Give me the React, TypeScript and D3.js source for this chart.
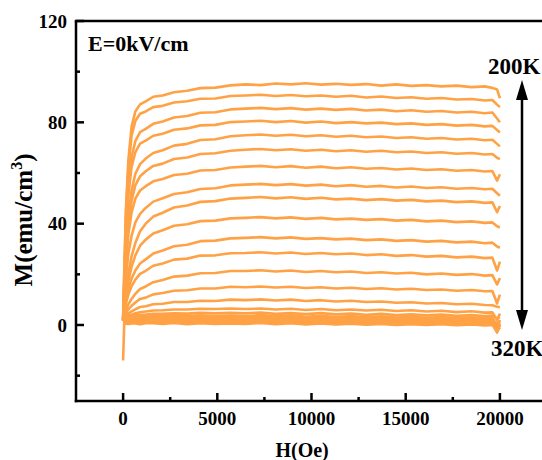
import React from 'react';
import * as d3 from 'd3';

const fieldOe = [0, 60, 150, 280, 450, 650, 900, 1200, 1600, 2100, 2700, 3400, 4100, 4900, 5700, 6500, 7300, 8100, 8900, 9700, 10500, 11300, 12100, 12900, 13700, 14500, 15300, 16100, 16900, 17700, 18500, 19200, 19600, 19850, 20000];

const m200K = [2, 20.6, 45.7, 65.2, 78.3, 84.3, 87.1, 88.3, 90.1, 90.6, 91.9, 92.5, 93.5, 93.7, 94.6, 95.0, 94.7, 95.3, 95.0, 95.4, 94.9, 95.2, 94.8, 95.1, 94.5, 95.0, 94.4, 94.7, 94.2, 94.5, 93.9, 94.2, 93.6, 93.0, 89.5];
const m205K = [2.5, 19.7, 43.7, 62.3, 74.7, 80.5, 83.4, 84.3, 86.0, 86.5, 87.8, 88.3, 89.3, 89.4, 90.4, 90.6, 90.9, 90.4, 90.8, 90.3, 90.6, 90.1, 90.5, 89.8, 90.2, 89.6, 89.9, 89.3, 89.6, 89.0, 89.2, 88.6, 88.8, 87.0, 86.0];
const m210K = [1.8, 17.0, 37.9, 54.6, 66.3, 72.6, 76.1, 77.4, 79.4, 80.3, 81.9, 82.5, 83.8, 84.0, 85.1, 85.4, 85.7, 85.2, 85.6, 85.0, 85.4, 84.9, 85.3, 84.7, 85.0, 84.4, 84.8, 84.2, 84.5, 83.9, 84.2, 83.6, 83.9, 81.5, 80.0];
const m215K = [2.2, 16.1, 35.7, 51.4, 62.4, 68.2, 71.6, 72.8, 74.7, 75.5, 77.1, 77.6, 78.8, 79.0, 80.1, 80.3, 80.6, 80.1, 80.5, 79.9, 80.3, 79.7, 80.1, 79.6, 79.9, 79.3, 79.6, 79.0, 79.3, 78.7, 79.0, 78.4, 78.6, 77.0, 76.0];
const m220K = [1.6, 13.0, 29.0, 42.9, 53.1, 59.7, 63.5, 65.7, 67.9, 69.0, 70.8, 71.5, 73.0, 73.3, 74.5, 74.9, 75.2, 74.7, 75.1, 74.5, 74.9, 74.3, 74.7, 74.1, 74.4, 73.8, 74.1, 73.5, 73.8, 73.2, 73.5, 72.9, 73.1, 71.5, 70.5];
const m225K = [2.4, 12.1, 26.9, 39.7, 49.1, 55.2, 58.7, 60.7, 62.8, 63.7, 65.5, 66.1, 67.5, 67.8, 68.8, 69.2, 69.5, 69.0, 69.4, 68.8, 69.2, 68.6, 69.0, 68.4, 68.8, 68.2, 68.5, 67.9, 68.2, 67.6, 67.9, 67.3, 67.5, 66.0, 65.5];
const m230K = [1.9, 11.1, 24.4, 35.9, 44.4, 49.9, 53.1, 54.8, 56.7, 57.6, 59.2, 59.7, 61.0, 61.2, 62.2, 62.5, 62.8, 62.3, 62.7, 62.1, 62.5, 61.9, 62.3, 61.7, 62.0, 61.4, 61.8, 61.2, 61.5, 60.9, 61.2, 60.6, 60.8, 57.0, 59.5];
const m235K = [2.1, 9.0, 19.1, 28.2, 35.2, 40.5, 43.9, 46.2, 48.7, 50.0, 51.7, 52.4, 53.7, 54.0, 55.1, 55.4, 55.7, 55.2, 55.6, 55.0, 55.4, 54.8, 55.2, 54.6, 54.9, 54.3, 54.7, 54.1, 54.4, 53.8, 54.1, 53.6, 53.8, 52.0, 51.0];
const m240K = [1.7, 6.8, 13.6, 20.4, 27.1, 32.4, 37.0, 40.0, 42.8, 44.3, 46.4, 47.2, 48.6, 48.9, 49.9, 50.2, 50.5, 50.0, 50.4, 49.8, 50.2, 49.6, 49.9, 49.3, 49.7, 49.1, 49.4, 48.8, 49.1, 48.5, 48.8, 48.2, 48.4, 44.5, 47.0];
const m245K = [2.3, 6.0, 11.7, 17.4, 23.0, 27.5, 31.3, 33.7, 36.1, 37.4, 39.2, 39.8, 41.0, 41.2, 42.1, 42.3, 42.6, 42.1, 42.5, 41.9, 42.3, 41.7, 42.0, 41.5, 41.8, 41.2, 41.5, 40.9, 41.2, 40.6, 40.9, 40.3, 40.5, 39.0, 38.5];
const m250K = [1.8, 5.3, 9.8, 14.4, 18.3, 21.5, 24.3, 25.9, 28.2, 29.4, 31.1, 31.7, 33.1, 33.3, 34.2, 34.4, 34.7, 34.2, 34.6, 34.0, 34.3, 33.8, 34.1, 33.5, 33.8, 33.2, 33.5, 32.9, 33.2, 32.6, 32.9, 32.3, 32.5, 31.0, 30.5];
const m255K = [2.2, 4.7, 8.4, 12.1, 15.3, 17.9, 20.2, 21.4, 23.4, 24.3, 25.8, 26.2, 27.4, 27.5, 28.3, 28.4, 28.7, 28.2, 28.6, 28.0, 28.4, 27.9, 28.2, 27.6, 27.9, 27.3, 27.6, 27.0, 27.3, 26.7, 27.0, 26.4, 26.6, 21.5, 25.0];
const m260K = [1.9, 3.6, 5.9, 8.2, 10.3, 12.3, 14.2, 15.2, 16.9, 17.8, 19.1, 19.5, 20.4, 20.5, 21.3, 21.3, 21.6, 21.1, 21.5, 20.9, 21.3, 20.8, 21.1, 20.5, 20.8, 20.3, 20.6, 20.0, 20.3, 19.8, 20.1, 19.5, 19.7, 16.0, 18.5];
const m265K = [2.4, 3.0, 4.6, 6.2, 7.6, 8.9, 10.3, 10.8, 12.1, 12.6, 13.5, 13.7, 14.4, 14.4, 15.1, 14.9, 15.2, 14.8, 15.1, 14.6, 14.9, 14.4, 14.7, 14.2, 14.5, 14.0, 14.3, 13.8, 14.0, 13.5, 13.8, 13.3, 13.4, 8.5, 12.0];
const m270K = [1.8, 2.6, 3.6, 4.5, 5.4, 6.2, 7.1, 7.4, 8.2, 8.4, 9.1, 9.1, 9.6, 9.5, 10.0, 9.8, 10.1, 9.7, 10.0, 9.5, 9.8, 9.3, 9.6, 9.1, 9.3, 8.8, 9.0, 8.5, 8.7, 8.2, 8.4, 7.9, 7.8, 7.2, 7.0];
const m275K = [2.0, 2.4, 3.0, 3.6, 4.1, 4.6, 5.0, 5.3, 5.7, 5.8, 6.1, 6.1, 6.4, 6.3, 6.5, 6.3, 6.5, 6.1, 6.4, 5.9, 6.3, 5.8, 6.1, 5.7, 6.0, 5.5, 5.8, 5.3, 5.6, 5.1, 5.4, 4.9, 5.0, 2.0, 4.5];
const m280K = [2.3, 2.5, 2.9, 3.2, 3.5, 3.8, 4.0, 4.1, 4.4, 4.4, 4.6, 4.5, 4.8, 4.6, 4.8, 4.6, 4.9, 4.4, 4.7, 4.3, 4.7, 4.2, 4.5, 4.0, 4.4, 3.9, 4.2, 3.8, 4.1, 3.6, 3.9, 3.5, 3.7, 2.5, 3.0];
const m285K = [1.8, 2.0, 2.3, 2.6, 2.8, 3.0, 3.2, 3.2, 3.5, 3.4, 3.7, 3.5, 3.8, 3.5, 3.7, 3.5, 3.9, 3.4, 3.8, 3.2, 3.6, 3.1, 3.5, 3.0, 3.4, 2.9, 3.2, 2.8, 3.1, 2.7, 3.0, 2.6, 2.8, 0.0, 2.0];
const m290K = [2.5, 2.3, 2.4, 2.5, 2.7, 2.8, 2.7, 2.9, 3.0, 2.8, 3.1, 2.8, 3.1, 2.9, 3.0, 2.8, 3.2, 2.7, 3.1, 2.6, 3.0, 2.5, 2.9, 2.4, 2.8, 2.3, 2.7, 2.2, 2.5, 2.1, 2.4, 2.0, 2.2, -1.0, 1.5];
const m295K = [1.5, 1.7, 1.9, 2.0, 2.1, 2.2, 2.1, 2.3, 2.4, 2.2, 2.5, 2.2, 2.5, 2.3, 2.4, 2.2, 2.6, 2.1, 2.5, 2.0, 2.4, 1.9, 2.3, 1.8, 2.2, 1.7, 2.1, 1.6, 1.9, 1.5, 1.8, 1.4, 1.6, 0.5, 1.0];
const m300K = [2.8, 2.0, 1.6, 1.5, 1.7, 1.8, 1.6, 1.9, 2.0, 1.7, 2.0, 1.6, 2.0, 1.8, 1.9, 1.7, 2.1, 1.6, 2.0, 1.5, 1.9, 1.4, 1.8, 1.3, 1.7, 1.2, 1.6, 1.1, 1.5, 1.0, 1.3, 0.9, 1.1, -2.0, 0.5];
const m305K = [1.2, 1.3, 1.3, 1.4, 1.3, 1.5, 1.2, 1.5, 1.6, 1.3, 1.6, 1.2, 1.5, 1.3, 1.5, 1.3, 1.7, 1.2, 1.6, 1.1, 1.5, 1.0, 1.4, 0.9, 1.3, 0.8, 1.2, 0.8, 1.1, 0.7, 1.0, 0.6, 0.8, -0.5, 0.2];
const m310K = [3.5, 1.5, 1.0, 0.9, 1.1, 1.2, 0.9, 1.3, 1.3, 1.0, 1.4, 0.9, 1.3, 1.0, 1.2, 1.0, 1.4, 0.9, 1.3, 0.8, 1.2, 0.7, 1.1, 0.6, 1.0, 0.5, 0.9, 0.5, 0.8, 0.4, 0.7, 0.3, 0.5, -3.0, 0.0];
const m315K = [0.8, 0.9, 0.7, 0.8, 0.9, 0.9, 0.6, 1.0, 1.0, 0.7, 1.1, 0.6, 1.0, 0.7, 0.9, 0.7, 1.1, 0.6, 1.0, 0.5, 0.9, 0.4, 0.8, 0.4, 0.7, 0.3, 0.6, 0.2, 0.6, 0.2, 0.5, 0.1, 0.3, 1.0, -0.5];
const m320K = [-14.0, 0.8, 0.5, 0.4, 0.6, 0.6, 0.3, 0.7, 0.7, 0.4, 0.8, 0.3, 0.7, 0.4, 0.6, 0.4, 0.8, 0.3, 0.7, 0.2, 0.6, 0.2, 0.5, 0.1, 0.4, 0.0, 0.3, 0.0, 0.3, -0.1, 0.2, -0.2, 0.0, -2.5, -1.0];

const curves = [m200K, m205K, m210K, m215K, m220K, m225K, m230K, m235K, m240K, m245K, m250K, m255K, m260K, m265K, m270K, m275K, m280K, m285K, m290K, m295K, m300K, m305K, m310K, m315K, m320K];

const xTickValues = [0, 5000, 10000, 15000, 20000];
const xMinorValues = [2500, 7500, 12500, 17500];
const yTickValues = [0, 40, 80, 120];
const yMinorValues = [-20, 20, 60, 100];

const lineColor = '#FFA245';

export default function App() {
  const W = 542;
  const Hh = 460;
  const left = 76, top = 21, bottom = 401, right = 547;
  const x = d3.scaleLinear().domain([-2500, 22500]).range([left, right]);
  const y = d3.scaleLinear().domain([-30, 120]).range([bottom, top]);
  const line = d3
    .line<number>()
    .x((_, i) => x(fieldOe[i]))
    .y((d) => y(d));

  const font = "'Liberation Serif', 'Times New Roman', serif";

  return (
    <svg
      width={W}
      height={Hh}
      style={{ position: 'absolute', left: 0, top: 0, background: '#fff' }}
      fontFamily={font}
      fontWeight="bold"
    >
      <g fill="none" stroke={lineColor} strokeWidth={2.6} strokeLinejoin="round">
        {curves.map((c, i) => (
          <path key={i} d={line(c) || ''} />
        ))}
      </g>
      {/* frame */}
      <g stroke="#000" strokeWidth={2.5} fill="none">
        <line x1={left} y1={top} x2={left} y2={bottom + 1.25} />
        <line x1={left - 1.25} y1={bottom} x2={right} y2={bottom} />
        <line x1={left - 1.25} y1={top} x2={right} y2={top} />
        {xTickValues.map((v) => (
          <line key={'xt' + v} x1={x(v)} x2={x(v)} y1={bottom} y2={bottom - 8} />
        ))}
        {xMinorValues.map((v) => (
          <line key={'xm' + v} x1={x(v)} x2={x(v)} y1={bottom} y2={bottom - 4} />
        ))}
        {yTickValues.map((v) => (
          <line key={'yt' + v} x1={left} x2={left + 8} y1={y(v)} y2={y(v)} />
        ))}
        {yMinorValues.map((v) => (
          <line key={'ym' + v} x1={left} x2={left + 4} y1={y(v)} y2={y(v)} />
        ))}
      </g>
      <g fontSize={19} fill="#000">
        {xTickValues.map((v) => (
          <text key={'xl' + v} x={x(v)} y={425} textAnchor="middle">
            {v}
          </text>
        ))}
        {yTickValues.map((v) => (
          <text key={'yl' + v} x={67} y={y(v) + 6.5} textAnchor="end">
            {v}
          </text>
        ))}
      </g>
      <text x={x(9500)} y={457} fontSize={20} textAnchor="middle" fill="#000">
        H(Oe)
      </text>
      <text transform={`translate(32,220) rotate(-90)`} fontSize={25} textAnchor="middle" fill="#000">
        M(emu/cm<tspan dy={-10} fontSize={16}>3</tspan><tspan dy={10}>)</tspan>
      </text>
      <text x={88} y={51} fontSize={22} fill="#000">E=0kV/cm</text>
      <text x={488} y={74} fontSize={23} fill="#000">200K</text>
      <text x={491} y={356} fontSize={23} fill="#000">320K</text>
      <line x1={522} y1={96} x2={522} y2={314} stroke="#000" strokeWidth={2.5} />
      <path d="M522,80 L528,100 L516,100 Z" fill="#000" />
      <path d="M522,330 L528,310 L516,310 Z" fill="#000" />
    </svg>
  );
}
